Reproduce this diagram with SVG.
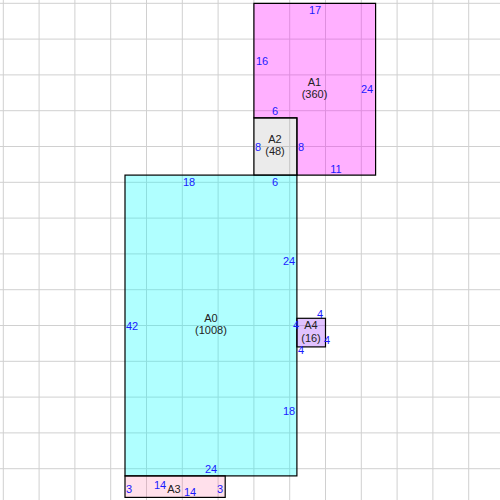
<svg xmlns="http://www.w3.org/2000/svg" width="500" height="500" viewBox="0 0 500 500">
<style>
.grid line{stroke:#d0d0d0;stroke-width:1}
.box{stroke:#000;stroke-width:1.2}
.name{font-family:"Liberation Sans",Arial,sans-serif;font-size:11px;fill:#222;text-anchor:middle}
.dim{font-family:"Liberation Sans",Arial,sans-serif;font-size:11px;fill:#1a1aff;text-anchor:middle}
</style>
<rect x="0" y="0" width="500" height="500" fill="#fff"/>
<g class="grid">
<line x1="3.3" y1="0" x2="3.3" y2="500"/><line x1="39.1" y1="0" x2="39.1" y2="500"/><line x1="74.9" y1="0" x2="74.9" y2="500"/><line x1="110.7" y1="0" x2="110.7" y2="500"/><line x1="146.5" y1="0" x2="146.5" y2="500"/><line x1="182.3" y1="0" x2="182.3" y2="500"/><line x1="218.1" y1="0" x2="218.1" y2="500"/><line x1="253.9" y1="0" x2="253.9" y2="500"/><line x1="289.7" y1="0" x2="289.7" y2="500"/><line x1="325.5" y1="0" x2="325.5" y2="500"/><line x1="361.3" y1="0" x2="361.3" y2="500"/><line x1="397.1" y1="0" x2="397.1" y2="500"/><line x1="432.9" y1="0" x2="432.9" y2="500"/><line x1="468.7" y1="0" x2="468.7" y2="500"/>
<line y1="3.3" x1="0" y2="3.3" x2="500"/><line y1="39.1" x1="0" y2="39.1" x2="500"/><line y1="74.9" x1="0" y2="74.9" x2="500"/><line y1="110.7" x1="0" y2="110.7" x2="500"/><line y1="146.5" x1="0" y2="146.5" x2="500"/><line y1="182.3" x1="0" y2="182.3" x2="500"/><line y1="218.1" x1="0" y2="218.1" x2="500"/><line y1="253.9" x1="0" y2="253.9" x2="500"/><line y1="289.7" x1="0" y2="289.7" x2="500"/><line y1="325.5" x1="0" y2="325.5" x2="500"/><line y1="361.3" x1="0" y2="361.3" x2="500"/><line y1="397.1" x1="0" y2="397.1" x2="500"/><line y1="432.9" x1="0" y2="432.9" x2="500"/><line y1="468.7" x1="0" y2="468.7" x2="500"/>
</g>
<g id="A1">
<polygon class="box" points="253.9,3.3 375.6,3.3 375.6,175.1 296.9,175.1 296.9,117.9 253.9,117.9" fill="#ff00ff" fill-opacity="0.31"/>
<text class="name" x="314.5" y="86">A1</text>
<text class="name" x="314.5" y="98">(360)</text>
<text class="dim" x="315" y="14">17</text>
<text class="dim" x="262" y="65">16</text>
<text class="dim" x="367" y="93">24</text>
<text class="dim" x="275" y="115">6</text>
<text class="dim" x="336" y="173">11</text>
</g>
<g id="A2">
<rect class="box" x="253.9" y="117.9" width="43" height="57.3" fill="#999" fill-opacity="0.2"/>
<text class="name" x="275" y="143">A2</text>
<text class="name" x="275" y="155">(48)</text>
<text class="dim" x="258" y="151">8</text>
<text class="dim" x="301" y="151">8</text>
</g>
<g id="A0">
<rect class="box" x="125" y="175.1" width="171.9" height="300.8" fill="#00ffff" fill-opacity="0.31"/>
<text class="name" x="211" y="322">A0</text>
<text class="name" x="211" y="334">(1008)</text>
<text class="dim" x="189" y="186">18</text>
<text class="dim" x="275" y="186">6</text>
<text class="dim" x="289" y="265">24</text>
<text class="dim" x="132" y="330">42</text>
<text class="dim" x="289" y="415">18</text>
<text class="dim" x="211" y="473">24</text>
</g>
<g id="A3">
<rect class="box" x="125" y="475.9" width="100.2" height="21.5" fill="#ff6699" fill-opacity="0.2"/>
<text class="name" x="174" y="493">A3</text>
<text class="dim" x="129" y="493">3</text>
<text class="dim" x="160" y="489">14</text>
<text class="dim" x="190" y="496">14</text>
<text class="dim" x="220" y="493">3</text>
</g>
<g id="A4">
<rect class="box" x="296.9" y="318.3" width="28.6" height="28.6" fill="#8000ff" fill-opacity="0.24"/>
<text class="name" x="311" y="329">A4</text>
<text class="name" x="311" y="342">(16)</text>
<text class="dim" x="296" y="329">4</text>
<text class="dim" x="320" y="318">4</text>
<text class="dim" x="327" y="344">4</text>
<text class="dim" x="301" y="354">4</text>
</g>
<g id="connectors"/>
</svg>
